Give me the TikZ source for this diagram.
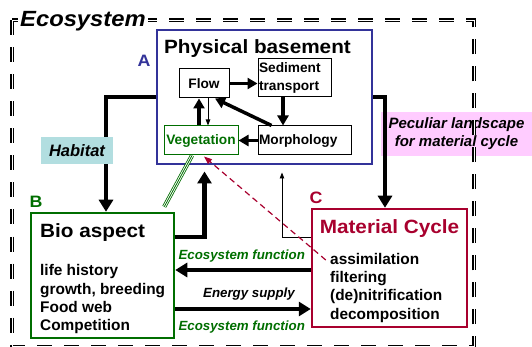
\documentclass[tikz,border=0pt]{standalone}
\usepackage{fontspec}
\setmainfont{Liberation Sans}
\newfontfamily\headfont{Liberation Sans}[FakeStretch=1.08]
\usetikzlibrary{arrows.meta,calc}
\definecolor{blueC}{HTML}{333399}
\definecolor{greenC}{HTML}{006E00}
\definecolor{redC}{HTML}{A8002E}
\definecolor{habC}{HTML}{B2DEE0}
\definecolor{pinkC}{HTML}{FFCCFF}
\begin{document}
\begin{tikzpicture}[x=1pt,y=-1pt,
  smallbox/.style={draw, line width=1pt, inner sep=0pt, font=\bfseries\fontsize{13.7}{18}\selectfont},
  heavyarrow/.style={line width=4.5pt, -{Triangle[length=12pt,width=14pt]}},
  midarrow/.style={line width=3.5pt, -{Triangle[length=10pt,width=11pt]}},
  thinarrow/.style={line width=0.9pt, -{Triangle[length=6pt,width=4.5pt]}},
  headtxt/.style={inner sep=0pt, font=\headfont\bfseries\fontsize{19.2}{22}\selectfont},
  listtxt/.style={inner sep=0pt, align=left, font=\bfseries\fontsize{15.4}{18.3}\selectfont},
  lettertxt/.style={inner sep=0pt, anchor=base, font=\headfont\bfseries\fontsize{16.5}{20}\selectfont},
  flowlabel/.style={inner sep=0pt, anchor=base, font=\bfseries\itshape\fontsize{13.3}{16}\selectfont},
  tripleline/.style={draw=greenC, line width=4.2pt,
     postaction={draw=white, line width=2.6pt},
     postaction={draw=greenC, line width=0.8pt}},
  ecoborder/.style={line width=1.5pt, double, double distance=1pt, dash pattern=on 15pt off 12pt}
]
\useasboundingbox (0,0) rectangle (532,347);

% pink label (below arrows and border)
\node[fill=pinkC, minimum width=151pt, minimum height=44pt, inner sep=0pt, align=center,
      font=\bfseries\itshape\fontsize{15}{18}\selectfont] (peculiar) at (456.5,134)
      {Peculiar landscape\\for material cycle};

% ecosystem border
\draw[ecoborder] (12.2,20.5) rectangle (474,346.5);

% Physical basement
\node[draw=blueC, line width=2pt, minimum width=215pt, minimum height=134pt, inner sep=0pt] (phys) at (264.5,97) {};
\node[headtxt, anchor=base] (physT) at (257.5,53.3) {Physical basement};
\node[lettertxt, text=blueC] (labA) at (144,66.7) {A};
\node[smallbox, minimum width=50pt, minimum height=29pt] (flow) at (204,83.5) {Flow};
\node[smallbox, minimum width=73pt, minimum height=38pt, text width=71pt, align=left, inner xsep=1pt] (sed) at (294.5,78) {Sediment\\transport};
\node[smallbox, draw=greenC, text=greenC, minimum width=74pt, minimum height=29pt] (veg) at (201,140.5) {Vegetation};
\node[smallbox, minimum width=93pt, minimum height=29pt, text width=91pt, align=left, inner xsep=1pt] (morph) at (304.5,140.5) {Morphology};

% Bio aspect
\node[draw=greenC, line width=2.5pt, minimum width=143pt, minimum height=125pt, inner sep=0pt] (bio) at (102.5,275.5) {};
\node[headtxt, anchor=base west] (bioT) at (40,237.7) {Bio aspect};
\node[listtxt, anchor=base west] (bioL) at (40,330.7) {life history\\growth, breeding\\Food web\\Competition};
\node[lettertxt, text=greenC] (labB) at (36,207.7) {B};

% Material cycle
\node[draw=redC, line width=2.5pt, minimum width=155pt, minimum height=118pt, inner sep=0pt] (mat) at (389.5,268) {};
\node[headtxt, anchor=base, text=redC] (matT) at (389.5,233.3) {Material Cycle};
\node[listtxt, anchor=base west] (matL) at (330,319.2) {assimilation\\filtering\\(de)nitrification\\decomposition};
\node[lettertxt, text=redC] (labC) at (316,203.3) {C};

% connectors inside physical basement
\draw[midarrow] (flow.east) -- (flow.east -| sed.west);
\draw[midarrow] ([xshift=-11.5pt]sed.south) -- ([xshift=-11.5pt]sed.south |- morph.north);
\draw[midarrow] ([xshift=14pt]morph.north west) -- ([xshift=11pt]flow.south);
\draw[midarrow] (morph.west) -- (veg.east);
\draw[midarrow] ([xshift=-5pt]flow.south |- veg.north) -- ([xshift=-5pt]flow.south);
\draw[thinarrow] ([xshift=4pt]flow.south) -- ([xshift=4pt]flow.south |- veg.north);

% main connectors
\draw[heavyarrow] (phys.west) -| ([xshift=3.5pt]bio.north);
\draw[heavyarrow] (phys.east) -| ([xshift=-4.5pt]mat.north);
\draw[heavyarrow, shorten >=16pt] ([yshift=38.5pt]bio.east) -| ([xshift=3.5pt]veg.south);
\draw[heavyarrow] ([yshift=-2pt]mat.west) -- ([yshift=-2pt]mat.west -| bio.east);
\draw[heavyarrow] ([yshift=-33.5pt]bio.east) -- ([yshift=-33.5pt]bio.east -| mat.west);
\draw[thinarrow, shorten >=17pt] ([yshift=31pt]mat.west) -| ([xshift=-22.5pt]morph.south);
\draw[redC, line width=1.2pt, dash pattern=on 6pt off 4pt, -{Triangle[length=8pt,width=6pt]}]
  ([xshift=15pt,yshift=8pt]mat.west) -- ([xshift=3pt,yshift=-1pt]veg.south);
\draw[tripleline] ([xshift=-9pt]veg.south) -- ([xshift=-11pt,yshift=5pt]bio.north east);

% flow labels
\node[flowlabel, text=greenC] (ef1) at (241.7,259) {Ecosystem function};
\node[flowlabel] (es) at (249,297) {Energy supply};
\node[flowlabel, text=greenC] (ef2) at (241.7,330) {Ecosystem function};

% labels on top
\node[fill=habC, minimum width=72pt, minimum height=27pt, inner sep=0pt,
      font=\bfseries\itshape\fontsize{16.5}{20}\selectfont] (habitat) at (77,150.5) {Habitat};
\node[anchor=base west, fill=white, inner xsep=2pt, inner ysep=1pt,
      font=\headfont\bfseries\itshape\fontsize{22}{24}\selectfont] (eco) at (18,26.7) {Ecosystem};
\end{tikzpicture}
\end{document}
